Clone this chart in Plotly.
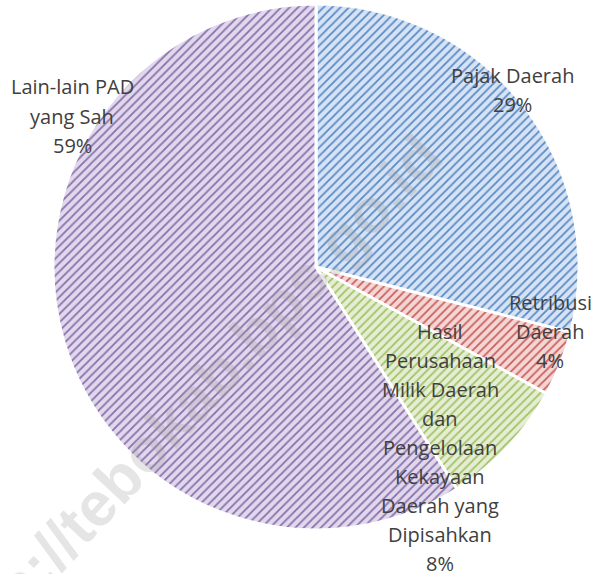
import plotly.graph_objects as go

categories = ["Pajak Daerah", "Retribusi Daerah",
              "Hasil Perusahaan Milik Daerah dan Pengelolaan Kekayaan Daerah yang Dipisahkan",
              "Lain-lain PAD yang Sah"]
values = [29, 4, 8, 59]
label_lines = [
    ["Pajak Daerah", "29%"],
    ["Retribusi", "Daerah", "4%"],
    ["Hasil", "Perusahaan", "Milik Daerah", "dan", "Pengelolaan", "Kekayaan", "Daerah yang", "Dipisahkan", "8%"],
    ["Lain-lain PAD", "yang Sah", "59%"],
]
fg_colors = ["#5a8ac6", "#c9605d", "#a3c264", "#8a70ab"]
bg_colors = ["#d6e3f4", "#f4d6d5", "#e5eed5", "#e0d8ec"]

W, H = 602, 574
cx, cy, r = 316, 267, 263

fig = go.Figure(go.Pie(
    labels=categories, values=values, sort=False,
    direction="clockwise", rotation=0,
    textinfo="none", hoverinfo="label+percent",
    marker=dict(colors=bg_colors,
                line=dict(color="white", width=3),
                pattern=dict(shape="/", fgcolor=fg_colors, bgcolor=bg_colors,
                             size=6, solidity=0.3, fillmode="replace")),
    domain=dict(x=[(cx - r) / W, (cx + r) / W], y=[(H - cy - r) / H, (H - cy + r) / H]),
    showlegend=False,
))

# label anchor: (center x, first line y) in pixels; line spacing in px
label_pos = [(512, 75), (550, 302), (440, 331), (72, 87)]
line_step = 29
annotations = []
for lines, (x, y0) in zip(label_lines, label_pos):
    for i, t in enumerate(lines):
        y = y0 + i * line_step
        annotations.append(dict(x=x / W, y=1 - y / H, xref="paper", yref="paper",
                                text=t, showarrow=False, xanchor="center", yanchor="middle",
                                font=dict(family="Open Sans", size=20, color="#404040")))

annotations.append(dict(x=190 / W, y=1 - 402 / H, xref="paper", yref="paper",
                        xanchor="center", yanchor="middle",
                        text="<b>http://tebokab.bps.go.id</b>", showarrow=False, textangle=-47,
                        font=dict(family="Liberation Sans", size=62, color="rgba(150,150,150,0.25)")))

fig.update_layout(width=W, height=H, margin=dict(l=0, r=0, t=0, b=0),
                  paper_bgcolor="white", plot_bgcolor="white",
                  annotations=annotations)
fig.write_html("out.html", config={"displayModeBar": False},
               post_script="document.body.style.margin='0';")
